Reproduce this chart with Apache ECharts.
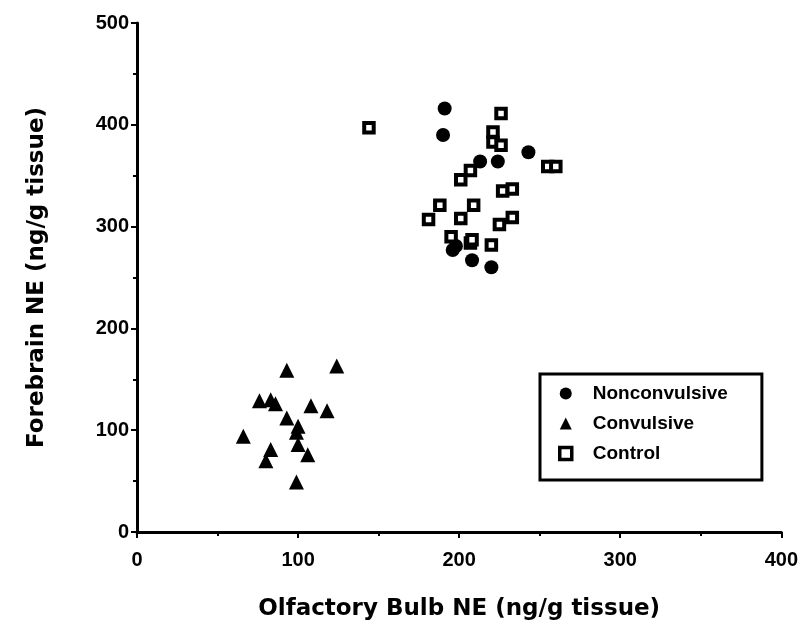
<!DOCTYPE html>
<html>
<head>
<meta charset="utf-8">
<script src="https://cdn.jsdelivr.net/npm/echarts@6/dist/echarts.min.js"></script>
<style>html,body{margin:0;padding:0;background:#fff}#c{width:801px;height:627px}</style>
</head>
<body>
<div id="c"></div>
<script>
const xTicks = [0, 100, 200, 300, 400];
const yTicks = [0, 100, 200, 300, 400, 500];
const seriesNames = ['Nonconvulsive', 'Convulsive', 'Control'];
const nonconvulsive = [
  [191, 416], [190, 390], [213, 364], [224, 364], [243, 373],
  [196, 277], [208, 267], [220, 260], [198, 281]
];
const convulsive = [
  [93, 159], [124, 163], [76, 129], [83, 130], [86, 126], [108, 124],
  [118, 119], [93, 112], [100, 104], [99, 98], [66, 94], [100, 86],
  [83, 81], [80, 70], [106, 76], [99, 49]
];
const control = [
  [144, 397], [226, 411], [221, 393], [221, 383], [226, 380],
  [255, 359], [260, 359], [201, 346], [207, 355], [227, 335], [233, 337],
  [188, 321], [181, 307], [209, 321], [201, 308], [233, 309], [225, 302],
  [195, 290], [207, 284], [220, 282], [208, 287]
];

const FONT = '"Liberation Sans", Arial, sans-serif';
const NAMEFONT = '"DejaVu Sans", "Liberation Sans", sans-serif';
const chart = echarts.init(document.getElementById('c'), null, {renderer: 'canvas'});
chart.setOption({
  backgroundColor: '#fff',
  animation: false,
  textStyle: {fontFamily: FONT, color: '#000'},
  grid: {left: 137, right: 16, top: 23, bottom: 95, containLabel: false},
  legend: {
    orient: 'vertical',
    left: 540, top: 374,
    data: [
      {name: seriesNames[0]},
      {name: seriesNames[1]},
      {name: seriesNames[2], itemStyle: {borderWidth: 3.5, borderColor: '#000', color: '#fff'}}
    ],
    itemWidth: 12, itemHeight: 12, itemGap: 11,
    padding: [10, 34, 17, 18],
    borderColor: '#000', borderWidth: 3,
    backgroundColor: '#fff',
    textStyle: {fontFamily: FONT, fontSize: 19, fontWeight: 'bold', color: '#000', padding: [0, 0, 0, 16]}
  },
  xAxis: {
    type: 'value', min: xTicks[0], max: xTicks[xTicks.length - 1], interval: 100,
    name: 'Olfactory Bulb NE (ng/g tissue)', nameLocation: 'middle', nameGap: 66,
    nameTextStyle: {fontFamily: NAMEFONT, fontSize: 23, fontWeight: 'bold', color: '#000'},
    axisLine: {onZero: false, lineStyle: {color: '#000', width: 3}},
    axisTick: {show: true, length: 6, inside: false, lineStyle: {color: '#000', width: 2}},
    minorTick: {show: true, splitNumber: 2, length: 4, lineStyle: {color: '#000', width: 2}},
    axisLabel: {fontFamily: FONT, fontSize: 20, fontWeight: 'bold', color: '#000', margin: 18},
    splitLine: {show: false}
  },
  yAxis: {
    type: 'value', min: yTicks[0], max: yTicks[yTicks.length - 1], interval: 100,
    name: 'Forebrain NE (ng/g tissue)', nameLocation: 'middle', nameGap: 88,
    nameTextStyle: {fontFamily: NAMEFONT, fontSize: 23, fontWeight: 'bold', color: '#000'},
    axisLine: {onZero: false, lineStyle: {color: '#000', width: 3}},
    axisTick: {show: true, length: 6, inside: false, lineStyle: {color: '#000', width: 2}},
    minorTick: {show: true, splitNumber: 2, length: 4, lineStyle: {color: '#000', width: 2}},
    axisLabel: {fontFamily: FONT, fontSize: 20, fontWeight: 'bold', color: '#000', margin: 8},
    splitLine: {show: false}
  },
  series: [
    {
      name: seriesNames[0], type: 'scatter', data: nonconvulsive,
      symbol: 'circle', symbolSize: 14,
      itemStyle: {color: '#000', opacity: 1}
    },
    {
      name: seriesNames[1], type: 'scatter', data: convulsive,
      symbol: 'triangle', symbolSize: [15, 15],
      itemStyle: {color: '#000', opacity: 1}
    },
    {
      name: seriesNames[2], type: 'scatter', data: control,
      symbol: 'rect', symbolSize: 9.5,
      itemStyle: {color: '#fff', borderColor: '#000', borderWidth: 4, opacity: 1}
    }
  ]
});
</script>
</body>
</html>
